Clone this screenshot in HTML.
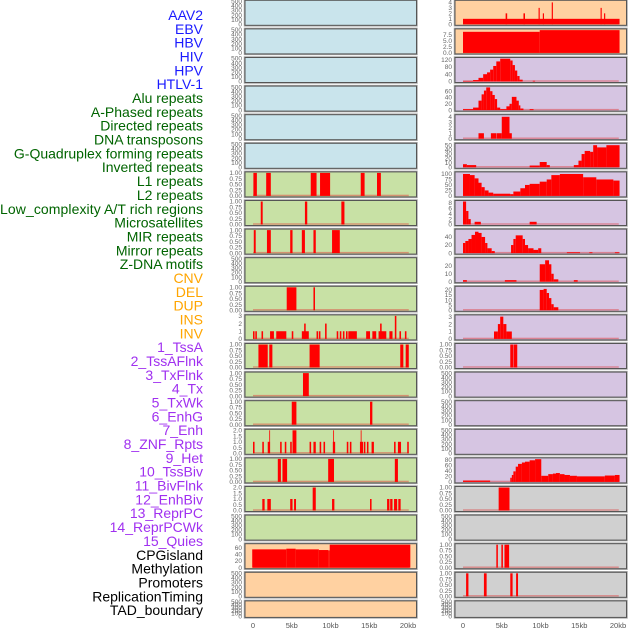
<!DOCTYPE html>
<html><head><meta charset="utf-8"><style>
html,body{margin:0;padding:0;background:#fff;}
svg{display:block;font-family:"Liberation Sans",sans-serif;}
</style></head><body>
<svg id="chart" width="630" height="630" viewBox="0 0 630 630" xmlns="http://www.w3.org/2000/svg">
<g id="labels"></g>
<g id="panels"></g>
<g id="xaxis"></g>
</svg>
<script>
const trackLabels = ["AAV2","EBV","HBV","HIV","HPV","HTLV-1","Alu repeats","A-Phased repeats","Directed repeats","DNA transposons","G-Quadruplex forming repeats","Inverted repeats","L1 repeats","L2 repeats","Low_complexity A/T rich regions","Microsatellites","MIR repeats","Mirror repeats","Z-DNA motifs","CNV","DEL","DUP","INS","INV","1_TssA","2_TssAFlnk","3_TxFlnk","4_Tx","5_TxWk","6_EnhG","7_Enh","8_ZNF_Rpts","9_Het","10_TssBiv","11_BivFlnk","12_EnhBiv","13_ReprPC","14_ReprPCWk","15_Quies","CPGisland","Methylation","Promoters","ReplicationTiming","TAD_boundary"];
const labelGroups = [6,13,5,15,5];
const groupColors = ["#1a1aff","#006400","#ffa500","#a030f0","#000000"];

const T500 = ["0","100","200","300","400","500"];
const T1 = ["0.00","0.25","0.50","0.75","1.00"];
const T2 = ["0.0","0.5","1.0","1.5","2.0"];
const T3 = ["0","1","2","3"];

const leftTicks = [T500,T500,T500,T500,T500,T500,T1,T1,T1,T500,T1,T3,T1,T1,T1,T2,T1,T2,T500,["0","20","40","60"],T500,T500];
const leftMax = [500,500,500,500,500,500,1,1,1,500,1,3,1,1,1,2,1,2,500,69,500,500];
const leftBars = [
 [],[],[],[],[],[],
 [[0.05,0.5,1],[1.7,2.3,1],[7.45,8.2,1],[8.65,9.95,1],[13.9,14.4,1],[16,16.5,1]],
 [[1.0,1.25,1],[6.7,7.0,1],[11.4,11.8,1]],
 [[0.1,0.35,1],[1.8,2.3,1],[4.8,5.1,1],[6.3,6.7,1],[7.8,8.1,1],[10.2,11.2,1]],
 [],
 [[4.35,5.6,1],[7.8,8.0,1]],
 [[0,0.2,1],[0.3,0.5,1],[1.1,1.3,1],[2.2,2.7,1],[3.0,4.3,1],[5.0,5.2,1],[6.3,7.2,1],[6.6,6.8,2],[8.2,8.4,1],[8.5,8.7,1],[9.3,9.5,2],[10.8,11.0,1],[11.2,11.4,1],[11.6,11.8,1],[12.0,12.2,1],[12.3,13.4,1],[14.6,15.1,1],[15.4,15.9,1],[16.2,17.2,1],[16.4,16.6,2],[17.6,18.0,1],[18.3,18.5,3],[18.9,19.1,1],[19.6,19.8,1]],
 [[0.7,1.9,1],[2.1,2.5,1],[7.3,8.6,1],[19.0,19.4,1],[19.7,20.1,1]],
 [[6.45,7.2,1]],
 [[5.0,5.6,1],[15.1,15.4,1]],
 [[0,0.2,1],[1.2,1.4,1],[1.9,2.2,1],[2.1,2.2,2],[3.5,3.7,1],[4.1,4.3,1],[4.8,5.0,1],[5.1,5.6,2],[7.3,7.5,1],[7.8,8.1,1],[8.6,8.8,1],[9.1,9.3,1],[10.3,10.6,1],[10.35,10.45,2],[12.1,12.3,1],[12.5,12.7,1],[13.8,14.2,1],[13.9,14.0,2],[14.3,14.5,1],[14.7,14.9,1],[15.3,15.6,1],[18.2,18.4,1],[18.7,19.1,1],[19.9,20.1,1]],
 [[3.2,3.6,1],[3.8,4.4,1],[9.7,10.45,1],[18.3,18.7,1]],
 [[1.2,1.5,1],[1.85,2.3,1],[4.8,5.1,1],[5.3,5.55,1],[7.7,8.1,2],[10.2,10.5,1],[15.1,15.3,1],[17.3,17.6,1],[17.7,18.0,1],[18.2,18.6,1],[18.75,19.05,1]],
 [],
 [[-0.1,4.3,55],[4.3,5.5,57],[5.5,8.5,55],[8.5,9.7,53],[9.7,9.9,52],[9.9,20.3,72]],
 [],[]
];

const rightTicks = [["0","1","2","3","4"],["0.0","2.5","5.0","7.5"],["0","40","80","120"],["0","20","40","60"],["0","1","2","3","4"],["0","10","20","30","40","50"],["0","25","50","75","100"],["0","2","4","6","8"],["0","20","40"],["0","10","20"],["0","5","10","15","20"],T3,T1,T500,T500,T500,["0","20","40","60","80"],T1,T500,T1,T1,T500];
const rightMax = [4.2,9.6,126,73,4.2,52,105,8.5,57,29,22.6,3.1,1,500,500,500,83,1,500,1,1,500];
const rightBars = [
 [[0,20.2,1],[5.5,5.7,2],[7.8,8.0,2],[9.75,9.9,3],[10.3,10.45,2],[11.45,11.6,4],[17.75,17.9,3],[18.2,18.35,2]],
 [[0,9.9,8.8],[9.9,20.2,9.5]],
 [[0,1.3,3],[1.3,2.0,8],[2.0,2.6,20],[2.6,3.1,40],[3.1,3.5,50],[3.5,3.9,65],[3.9,4.3,85],[4.3,4.8,110],[4.8,6.1,125],[6.1,6.4,115],[6.4,6.7,90],[6.7,7.0,60],[7.0,7.3,30],[7.3,7.7,10],[9.0,9.3,4]],
 [[0,1.3,3],[1.3,2.0,8],[2.0,2.4,30],[2.4,2.7,50],[2.7,3.0,62],[3.0,3.5,72],[3.5,3.8,60],[3.8,4.1,48],[4.1,4.4,35],[4.4,4.8,8],[4.8,5.6,3],[5.6,6.0,12],[6.0,6.3,20],[6.3,6.9,42],[6.9,7.2,30],[7.2,7.4,15],[7.4,7.8,5],[8.6,9.1,3]],
 [[2.0,2.7,1],[3.6,4.3,1],[4.35,5.0,1],[5.0,6.0,4],[6.0,6.3,1]],
 [[0,0.5,7],[0.5,1.7,5],[8.6,9.9,4],[9.9,10.8,12],[10.8,11.2,5],[14.3,14.9,5],[14.9,15.3,15],[15.3,15.7,30],[15.7,16.4,37],[16.4,16.8,35],[16.8,17.3,50],[17.3,18.5,45],[18.5,20.2,50]],
 [[0,0.9,100],[0.9,1.5,95],[1.5,2.0,80],[2.0,2.4,60],[2.4,2.8,40],[2.8,3.3,25],[3.3,3.9,15],[3.9,6.1,10],[6.1,6.5,8],[6.5,7.4,20],[7.4,8.0,35],[8.0,8.6,50],[8.6,9.9,55],[9.9,10.8,65],[10.8,11.4,75],[11.4,12.5,95],[12.5,15.5,100],[15.5,17.2,85],[17.2,19.4,75],[19.4,20.2,70]],
 [[0,0.4,9],[0.4,0.7,5],[0.7,1.0,2],[1.5,2.3,1],[8.6,9.5,1]],
 [[0,0.3,25],[0.3,0.7,30],[0.7,1.1,35],[1.1,1.55,45],[1.55,2.0,53],[2.0,2.4,50],[2.4,2.85,40],[2.85,3.15,25],[3.15,3.7,12],[3.7,4.1,5],[6.2,6.5,20],[6.5,6.8,35],[6.8,7.7,44],[7.7,8.0,35],[8.0,8.4,20],[8.4,9.1,12],[9.1,9.7,8],[9.7,10.1,12],[13.4,15.1,2],[16.3,16.7,2],[19.6,20.2,2]],
 [[0,0.5,2],[5.4,6.9,2],[9.9,10.6,22],[10.6,11.1,27],[11.1,11.4,22],[11.4,11.7,10],[11.7,12.3,3],[14.3,14.8,2]],
 [[9.9,10.4,20],[10.4,10.8,21],[10.8,11.1,17],[11.1,11.4,12],[11.4,11.7,6],[11.7,12.3,3]],
 [[4.0,4.5,1],[4.5,4.8,2],[4.8,5.2,3],[5.2,5.6,2],[5.6,6.3,1]],
 [[6.1,6.5,1],[6.55,7.0,1]],
 [],[],[],
 [[0,3.5,5],[6.1,6.3,15],[6.3,6.5,25],[6.5,6.8,38],[6.8,7.1,55],[7.1,7.6,65],[7.6,8.0,70],[8.0,8.6,73],[8.6,9.3,78],[9.3,10.1,82],[10.1,11.0,22],[11.0,11.6,28],[11.6,12.0,30],[12.0,12.5,32],[12.5,13.1,28],[13.1,13.8,25],[13.8,14.7,22],[14.7,18.3,20],[18.3,19.6,23],[19.6,20.2,25]],
 [[4.6,6.0,1]],
 [],
 [[4.3,4.5,1],[4.95,5.15,1],[5.35,5.95,1]],
 [[0.4,0.7,1],[2.7,3.05,1],[6.1,6.4,1],[6.85,7.1,1]],
 []
];
const leftColors = ["#c9e4ec","#c9e4ec","#c9e4ec","#c9e4ec","#c9e4ec","#c9e4ec","#c8e1a5","#c8e1a5","#c8e1a5","#c8e1a5","#c8e1a5","#c8e1a5","#c8e1a5","#c8e1a5","#c8e1a5","#c8e1a5","#c8e1a5","#c8e1a5","#c8e1a5","#ffd1a1","#ffd1a1","#ffd1a1"];
const rightColors = ["#ffd1a1","#ffd1a1","#d6c5e2","#d6c5e2","#d6c5e2","#d6c5e2","#d6c5e2","#d6c5e2","#d6c5e2","#d6c5e2","#d6c5e2","#d6c5e2","#d6c5e2","#d6c5e2","#d6c5e2","#d6c5e2","#d6c5e2","#d0d0d0","#d0d0d0","#d0d0d0","#d0d0d0","#d0d0d0"];
const xTickValues = [0,5,10,15,20];
const xTickLabels = ["0","5kb","10kb","15kb","20kb"];

const NS = "http://www.w3.org/2000/svg";
function mk(tag, attrs, parent){ const e=document.createElementNS(NS,tag); for(const k in attrs) e.setAttribute(k,attrs[k]); parent.appendChild(e); return e; }
const PITCH = 28.6, PW = 171.5;
const colX = [245,455];
function rowTop(i){ return i*PITCH + 0.3; }
function rowH(i){ return i===21 ? 16.5 : 25; }
function xScale(col, kb){ return colX[col] + 8 + kb*7.75; }
function yScale(i, v, max){ const t=rowTop(i)+1, h=rowH(i)-2; return t + (1 - Math.min(v,max)/max)*h; }

// labels
const lg = document.getElementById('labels');
let idx = 0;
labelGroups.forEach((n,g)=>{
  for(let k=0;k<n;k++){
    const t = mk('text',{x:203,y:20+idx*13.84,'text-anchor':'end','font-size':'14',fill:groupColors[g]},lg);
    
    
    t.textContent = trackLabels[idx];
    if(trackLabels[idx].length>28) t.setAttribute('textLength','203');
    idx++;
  }
});

const pg = document.getElementById('panels');
function drawPanel(i, col, ticks, max, bars, color){
  const g = mk('g',{},pg);
  
  
  const x0 = colX[col], top=rowTop(i), h=rowH(i);
  mk('rect',{x:x0-0.5,y:top-0.5,width:PW+1,height:h+1,fill:'none',stroke:'#aaa','stroke-width':1.5},g);
  mk('rect',{x:x0,y:top,width:PW,height:h,fill:color,stroke:'#555','stroke-width':1},g);
  // ticks
  const tmax = parseFloat(ticks[ticks.length-1]);
  ticks.forEach(tl=>{
    const v = parseFloat(tl);
    const t = mk('text',{x:x0-3,y:yScale(i,v*(max/tmax)*(tmax/max),max)+2.2,'text-anchor':'end','font-size':'6.5',fill:'#666'},g);
    
    
    t.textContent = tl;
  });
  if(bars.length){
    const b0 = mk('rect',{x:xScale(col,0),y:yScale(i,0,max)-1.2,width:xScale(col,20.1)-xScale(col,0),height:1.4,fill:'#e03030','fill-opacity':0.45},g);
    
    
    bars.forEach(b=>{
      const y = yScale(i,b[2],max), yb = yScale(i,0,max);
      const r = mk('rect',{x:xScale(col,b[0]),y:y,width:Math.max(0.8,xScale(col,b[1])-xScale(col,b[0])),height:Math.max(0,yb-y),fill:'#ff0000'},g);
      
      
    });
  }
}
for(let i=0;i<22;i++){
  drawPanel(i,0,leftTicks[i],leftMax[i],leftBars[i],leftColors[i]);
  drawPanel(i,1,rightTicks[i],rightMax[i],rightBars[i],rightColors[i]);
}
const xg = document.getElementById('xaxis');
[0,1].forEach(col=>{
  xTickValues.forEach((v,k)=>{
    const t = mk('text',{x:xScale(col,v),y:628,'text-anchor':'middle','font-size':'7.5',fill:'#555'},xg);
    
    
    t.textContent = xTickLabels[k];
  });
});
</script>
</body></html>
